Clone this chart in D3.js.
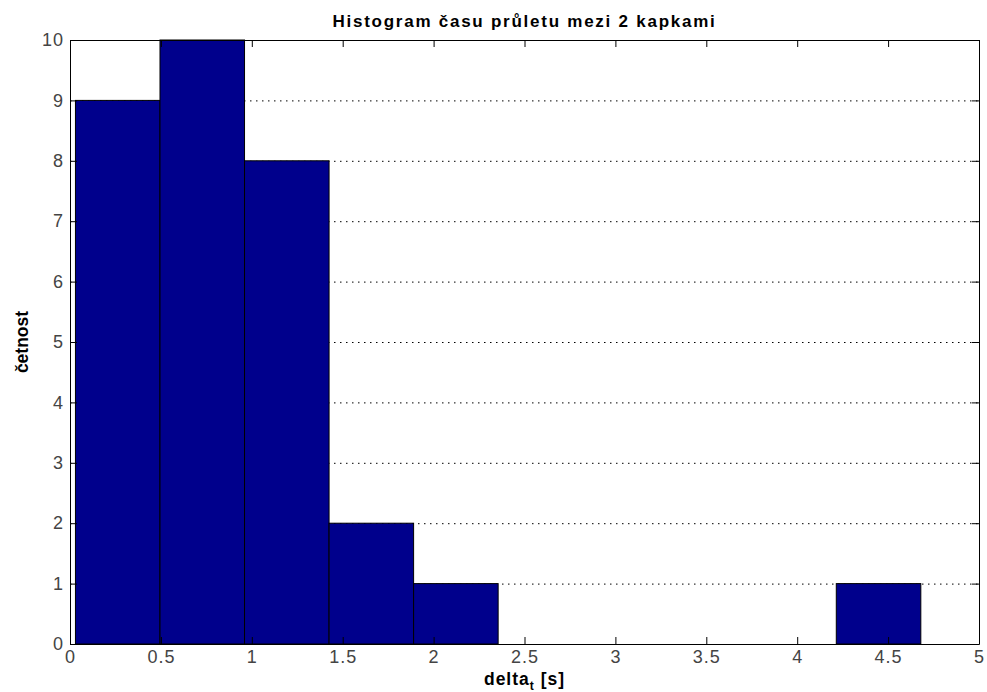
<!DOCTYPE html>
<html>
<head>
<meta charset="utf-8">
<script src="https://cdn.jsdelivr.net/npm/d3@7"></script>
<style>
  html, body { margin: 0; padding: 0; background: #fff; }
  svg { display: block; font-family: "Liberation Sans", Arial, sans-serif; }
</style>
</head>
<body>
<svg id="chart" width="987" height="692"></svg>
<script>
// Histogram bins (10 equal bins between min and max of the measured intervals)
const binStart = 0.03;
const binWidth = 0.465;
const counts = [9, 10, 8, 2, 1, 0, 0, 0, 0, 1];
const xTicks = [0, 0.5, 1, 1.5, 2, 2.5, 3, 3.5, 4, 4.5, 5];
const yTicks = [0, 1, 2, 3, 4, 5, 6, 7, 8, 9, 10];
const titleText = "Histogram času průletu mezi 2 kapkami";
const yLabelText = "četnost";

const svg = d3.select("#chart");
const m = { left: 70, right: 979, top: 40, bottom: 644 };

const x = d3.scaleLinear().domain([0, 5]).range([m.left, m.right]);
const y = d3.scaleLinear().domain([0, 10]).range([m.bottom, m.top]);

// Horizontal dotted grid
svg.append("g").selectAll("line").data(yTicks.slice(1, -1)).join("line")
  .attr("x1", m.left).attr("x2", m.right)
  .attr("y1", d => y(d) + 0.5).attr("y2", d => y(d) + 0.5)
  .attr("stroke", "#000").attr("stroke-width", 1)
  .attr("stroke-dasharray", "1.5,4.5");

// Bars
const bins = counts.map((c, i) => ({ x0: binStart + i * binWidth, x1: binStart + (i + 1) * binWidth, c }));
svg.append("g").selectAll("rect").data(bins.filter(b => b.c > 0)).join("rect")
  .attr("x", d => x(d.x0))
  .attr("width", d => x(d.x1) - x(d.x0))
  .attr("y", d => y(d.c))
  .attr("height", d => y(0) - y(d.c))
  .attr("fill", "#00008c")
  .attr("stroke", "#000")
  .attr("stroke-width", 1);

// Axes with inward ticks on all four sides
const tickLen = 7;
const axB = svg.append("g").attr("transform", `translate(0,${m.bottom})`)
  .call(d3.axisBottom(x).tickValues(xTicks).tickFormat(d3.format("")).tickSizeInner(-tickLen).tickSizeOuter(0).tickPadding(6));
const axT = svg.append("g").attr("transform", `translate(0,${m.top})`)
  .call(d3.axisTop(x).tickValues(xTicks).tickFormat("").tickSizeInner(-tickLen).tickSizeOuter(0));
const axL = svg.append("g").attr("transform", `translate(${m.left},0)`)
  .call(d3.axisLeft(y).tickValues(yTicks).tickFormat(d3.format("d")).tickSizeInner(-tickLen).tickSizeOuter(0).tickPadding(6));
const axR = svg.append("g").attr("transform", `translate(${m.right},0)`)
  .call(d3.axisRight(y).tickValues(yTicks).tickFormat("").tickSizeInner(-tickLen).tickSizeOuter(0));

[axB, axT, axL, axR].forEach(g => {
  g.select(".domain").attr("stroke", "#000");
  g.selectAll(".tick line").attr("stroke", "#000");
  g.selectAll("text").attr("font-size", 18).attr("fill", "#444")
    .attr("letter-spacing", 1)
    .attr("font-family", "'Liberation Sans', Arial, sans-serif");
});

// Title
svg.append("text").attr("x", (m.left + m.right) / 2).attr("y", 27)
  .attr("text-anchor", "middle").attr("font-size", 17).attr("font-weight", "bold")
  .attr("letter-spacing", 1.75)
  .text(titleText);

// Y label
svg.append("text").attr("transform", `translate(28,${(m.top + m.bottom) / 2}) rotate(-90)`)
  .attr("text-anchor", "middle").attr("font-size", 17.5).attr("font-weight", "bold")
  .text(yLabelText);

// X label with subscript
const xl = svg.append("text").attr("x", (m.left + m.right) / 2).attr("y", 685)
  .attr("text-anchor", "middle").attr("font-size", 17.5).attr("font-weight", "bold")
  .attr("letter-spacing", 1);
xl.append("tspan").text("delta");
xl.append("tspan").attr("font-size", 12).attr("dy", 5).text("t");
xl.append("tspan").attr("dy", -5).text(" [s]");
</script>
</body>
</html>
